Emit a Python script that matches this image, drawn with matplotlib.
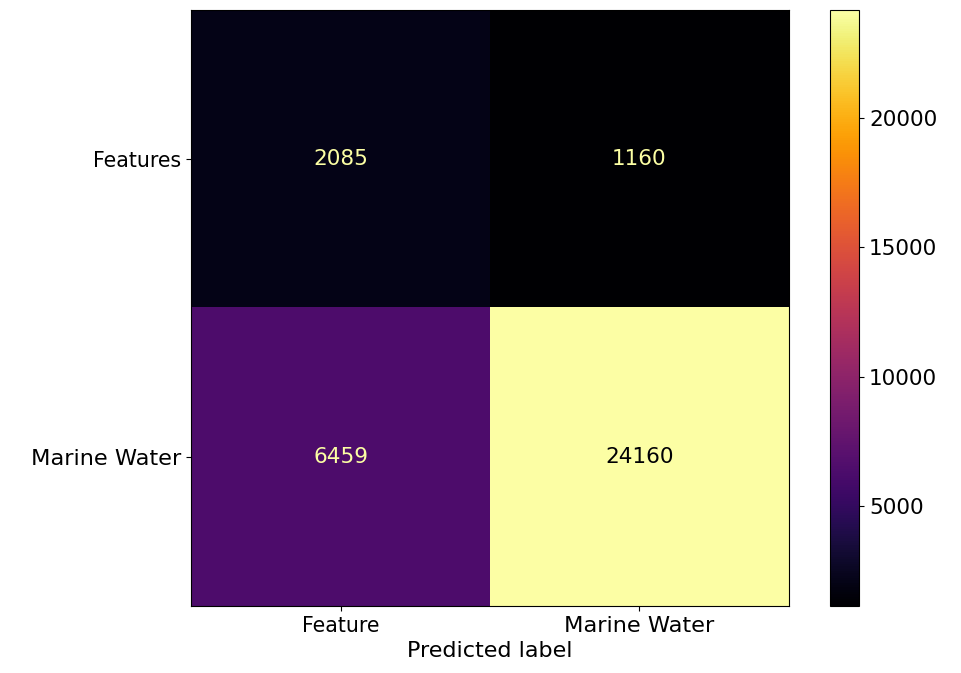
import numpy as np
import matplotlib
matplotlib.use("Agg")
import matplotlib.pyplot as plt

# confusion matrix counts (rows = true, cols = predicted)
row_labels = ["Features", "Marine Water"]
col_labels = ["Feature", "Marine Water"]
counts = np.array([[2085, 1160],
                   [6459, 24160]])

plt.rcParams["font.size"] = 15.5

fig = plt.figure(figsize=(9.61, 6.73), dpi=100)
ax = fig.add_axes([0.1988, 0.0996, 0.6222, 0.8855])
cax = fig.add_axes([0.8637, 0.0996, 0.0305, 0.8855])

cmap = plt.get_cmap("inferno")
im = ax.imshow(counts, cmap=cmap, interpolation="nearest", aspect="auto")

# text colour flips at the midpoint like sklearn's display
thresh = (counts.max() + counts.min()) / 2.0
for i in range(counts.shape[0]):
    for j in range(counts.shape[1]):
        color = cmap(0.0) if counts[i, j] >= thresh else cmap(1.0)
        ax.text(j, i, f"{counts[i, j]}", ha="center", va="center", color=color)

ax.set_xticks(range(len(col_labels)))
ax.set_xticklabels(col_labels)
ax.set_yticks(range(len(row_labels)))
ax.set_yticklabels(row_labels)
ax.set_xlabel("Predicted label", fontsize=16)

# the "Feature(s)" labels come out a touch smaller than "Marine Water"
for lbl in ax.get_xticklabels() + ax.get_yticklabels():
    lbl.set_fontsize(14.8 if lbl.get_text().startswith("Feature") else 16.2)

cb = fig.colorbar(im, cax=cax)
cb.set_ticks([5000, 10000, 15000, 20000])

fig.savefig("out.png", dpi=100)
